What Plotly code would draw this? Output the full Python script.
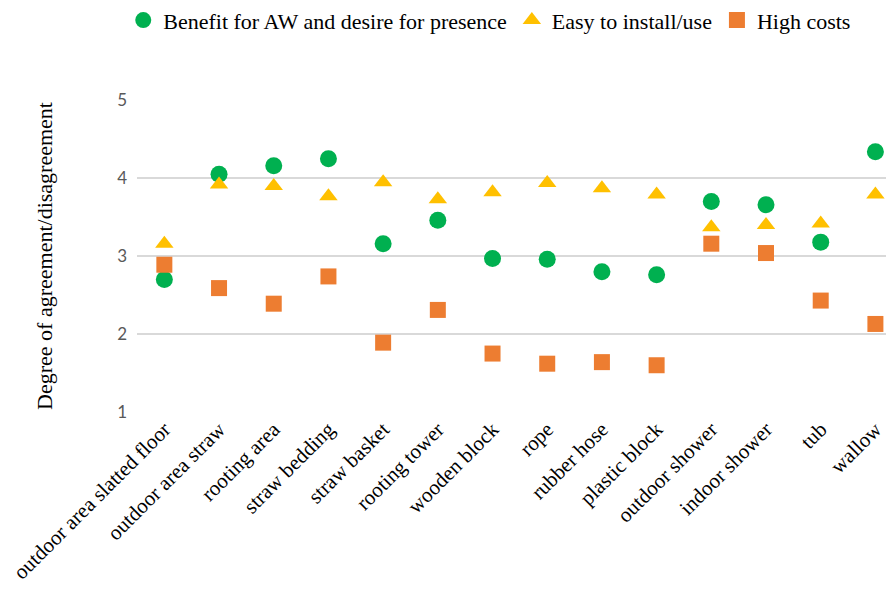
import plotly.graph_objects as go

categories = ["outdoor area slatted floor", "outdoor area straw", "rooting area", "straw bedding",
              "straw basket", "rooting tower", "wooden block", "rope", "rubber hose", "plastic block",
              "outdoor shower", "indoor shower", "tub", "wallow"]
benefit = [2.70, 4.05, 4.16, 4.25, 3.16, 3.46, 2.97, 2.96, 2.80, 2.76, 3.70, 3.66, 3.18, 4.34]
easy = [3.16, 3.92, 3.90, 3.77, 3.95, 3.73, 3.82, 3.94, 3.87, 3.79, 3.37, 3.40, 3.42, 3.79]
costs = [2.89, 2.59, 2.39, 2.74, 1.89, 2.31, 1.75, 1.62, 1.64, 1.60, 3.16, 3.04, 2.43, 2.13]
y_ticks = [1, 2, 3, 4, 5]

serif = "Liberation Serif, Times New Roman, serif"
sans = "Lato, Open Sans, sans-serif"
x = list(range(len(categories)))

fig = go.Figure()
fig.add_trace(go.Scatter(x=x, y=benefit, mode="markers", name="Benefit for AW and desire for presence",
                         marker=dict(symbol="circle", size=17, color="#00B050")))
fig.add_trace(go.Scatter(x=x, y=easy, mode="markers", name="Easy to install/use",
                         marker=dict(symbol="triangle-up", size=16, color="#FFC000")))
fig.add_trace(go.Scatter(x=x, y=costs, mode="markers", name="High costs",
                         marker=dict(symbol="square", size=16, color="#ED7D31")))

# page body has an 8px margin, so the figure is 8px smaller and margins shifted
fig.update_layout(
    width=886, height=584,
    margin=dict(l=129, r=0, t=92, b=180, autoexpand=False),
    paper_bgcolor="white", plot_bgcolor="white",
    font=dict(family=serif, color="black"),
    showlegend=True,
    legend=dict(orientation="h", x=0.466, xanchor="center", y=0.979, yanchor="middle",
                yref="container", font=dict(size=22, family=serif, color="black"),
                itemwidth=30, tracegroupgap=0),
    xaxis=dict(range=[-0.5, 13.34], tickmode="array", tickvals=x, ticktext=categories,
               tickangle=-45, showgrid=False, zeroline=False, showline=False, automargin=False,
               ticklabeloverflow="allow",
               ticks="", tickfont=dict(size=21, family=serif, color="black")),
    yaxis=dict(range=[1, 5.004], tickvals=y_ticks, showgrid=True, gridcolor="#D9D9D9", gridwidth=1.5,
               zeroline=False, showline=False, ticks="", ticklabelstandoff=9, automargin=False,
               tickfont=dict(size=17, family=sans, color="#595959"),
               title=dict(text="Degree of agreement/disagreement", standoff=58,
                          font=dict(size=22, family=serif, color="black"))),
)
fig.write_html("out.html")
